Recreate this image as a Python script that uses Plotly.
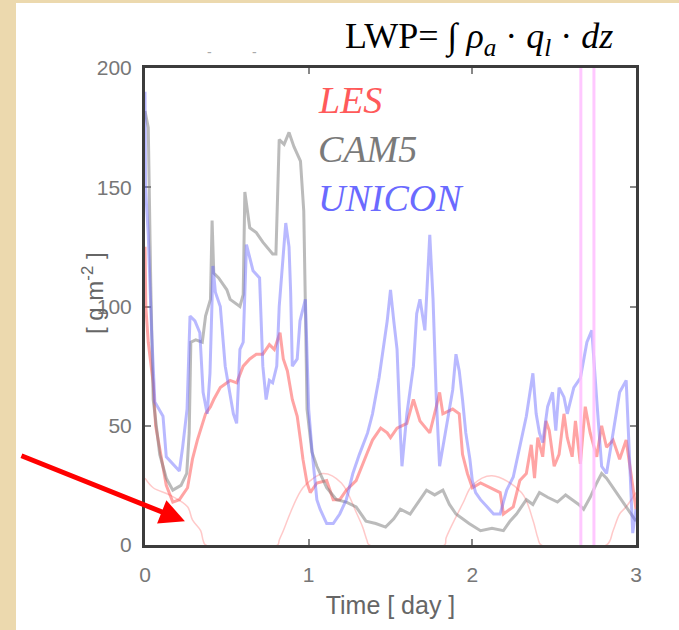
import plotly.graph_objects as go

# Liquid water path time series [g m^-2] over three days
t_les = [0.00, 0.005, 0.02, 0.05, 0.065, 0.09, 0.13, 0.17, 0.21, 0.26,
         0.29, 0.32, 0.35, 0.37, 0.40, 0.42, 0.46, 0.52, 0.56, 0.60,
         0.64, 0.68, 0.72, 0.76, 0.79, 0.81, 0.825, 0.845, 0.87, 0.90,
         0.93, 0.95, 0.965, 0.99, 1.01, 1.05, 1.11, 1.15, 1.19, 1.23,
         1.29, 1.36, 1.39, 1.44, 1.48, 1.50, 1.54, 1.60, 1.64, 1.68,
         1.74, 1.78, 1.80, 1.82, 1.88, 1.92, 1.94, 1.97, 2.00, 2.05,
         2.11, 2.17, 2.19, 2.25, 2.29, 2.33, 2.36, 2.38, 2.40, 2.43,
         2.45, 2.47, 2.50, 2.53, 2.56, 2.58, 2.61, 2.63, 2.66, 2.69,
         2.72, 2.76, 2.79, 2.82, 2.86, 2.90, 2.94, 2.98, 3.00]
v_les = [125, 100, 85, 68, 50, 40, 25, 18, 19, 24,
         36, 44, 51, 55, 58, 61, 66, 69, 68, 75,
         78, 80, 80, 84, 82, 86, 89, 78, 73, 61,
         54, 44, 36, 26, 22, 26, 27, 19, 19, 23,
         27, 39, 44, 49, 47, 45, 49, 51, 61, 52,
         47, 58, 64, 55, 57, 55, 38, 30, 24, 26,
         24, 22, 13, 16, 27, 30, 42, 28, 45, 37,
         52, 48, 33, 38, 55, 45, 37, 52, 34, 58,
         47, 37, 50, 41, 44, 36, 44, 24, 15]

t_cam = [0.00, 0.02, 0.035, 0.05, 0.09, 0.13, 0.17, 0.22, 0.255, 0.27,
         0.28, 0.31, 0.35, 0.37, 0.40, 0.41, 0.42, 0.45, 0.50, 0.52,
         0.58, 0.60, 0.61, 0.64, 0.68, 0.72, 0.78, 0.80, 0.82, 0.85,
         0.88, 0.91, 0.95, 0.97, 0.98, 0.99, 1.02, 1.05, 1.11, 1.17,
         1.23, 1.29, 1.35, 1.41, 1.47, 1.52, 1.56, 1.62, 1.67, 1.72,
         1.77, 1.82, 1.86, 1.90, 1.98, 2.05, 2.12, 2.19, 2.23, 2.27,
         2.33, 2.37, 2.41, 2.46, 2.52, 2.57, 2.61, 2.65, 2.68, 2.72,
         2.76, 2.79, 2.82, 2.86, 2.89, 2.92, 2.975, 3.00]
v_cam = [182, 175, 110, 61, 38, 28, 23, 25, 30, 47,
         85, 86, 85, 96, 103, 136, 114, 112, 107, 103,
         100, 105, 148, 133, 131, 127, 122, 122, 170, 168,
         173, 167, 161, 140, 100, 57, 39, 33, 24, 19,
         18, 16, 10, 9, 7.5, 11, 15, 13, 18, 23,
         21, 23, 17, 13, 9, 6, 7, 6, 10, 13,
         19, 17, 22, 20, 18, 21, 19, 17, 15, 20,
         26, 30, 28, 24, 21, 18, 13, 10]

t_uni = [0.00, 0.003, 0.02, 0.04, 0.06, 0.11, 0.13, 0.17, 0.21, 0.23,
         0.257, 0.275, 0.305, 0.335, 0.355, 0.38, 0.397, 0.41, 0.415, 0.43,
         0.46, 0.49, 0.52, 0.54, 0.56, 0.58, 0.60, 0.62, 0.66, 0.70,
         0.72, 0.74, 0.76, 0.78, 0.805, 0.82, 0.86, 0.88, 0.89, 0.90,
         0.93, 0.947, 0.98, 1.00, 1.02, 1.05, 1.07, 1.11, 1.15, 1.19,
         1.23, 1.27, 1.31, 1.36, 1.39, 1.43, 1.48, 1.50, 1.52, 1.54,
         1.56, 1.57, 1.60, 1.62, 1.64, 1.66, 1.68, 1.71, 1.74, 1.76,
         1.78, 1.80, 1.84, 1.88, 1.90, 1.92, 1.94, 1.96, 1.985, 2.00,
         2.02, 2.05, 2.09, 2.13, 2.17, 2.21, 2.25, 2.29, 2.33, 2.37,
         2.39, 2.41, 2.43, 2.46, 2.49, 2.51, 2.53, 2.56, 2.58, 2.62,
         2.66, 2.70, 2.73, 2.76, 2.79, 2.82, 2.86, 2.90, 2.94, 2.96,
         2.98, 3.00]
v_uni = [190, 150, 130, 90, 60, 54, 37, 34, 31, 41,
         57, 96, 94, 89, 64, 55, 72, 103, 117, 106,
         100, 75, 64, 55, 51, 82, 85, 126, 115, 112,
         75, 61, 69, 68, 75, 100, 135, 125, 106, 75,
         78, 94, 103, 57, 40, 19, 15, 9, 9, 13,
         19, 30, 38, 47, 55, 70, 94, 107, 94, 82,
         47, 33, 55, 64, 75, 97, 103, 90, 130, 103,
         61, 33, 49, 65, 80, 73, 61, 47, 36, 27,
         22, 19, 16, 13, 13, 23, 28.5, 41, 54, 72,
         55, 47, 43, 58, 64, 48, 66, 62, 55, 66,
         70, 85, 90, 61, 33, 30, 47, 64, 69, 33,
         5, 15]

# faint diurnal reference curve along the bottom
t_sun = [0.00, 0.05, 0.15, 0.26, 0.29, 0.34, 0.355, 0.37, 0.81, 0.82,
         0.845, 0.885, 0.93, 0.965, 1.01, 1.09, 1.20, 1.295, 1.33, 1.356,
         1.37, 1.83, 1.84, 1.943, 2.00, 2.12, 2.30, 2.37, 2.40, 2.42,
         2.82, 2.86, 2.90, 2.94, 3.00]
v_sun = [28, 24, 21, 16, 10.5, 6, 2, 0, 0, 2,
         6, 13, 20, 24, 27, 30, 26, 13, 7.5, 2,
         0, 0, 3, 17.6, 25, 29, 22, 10.5, 3, 0,
         0, 6, 13, 16, 22]

marker_days = [2.663, 2.743]

series_names = ["LES", "CAM5", "UNICON"]
series_colors = ["rgba(255,90,90,0.55)", "rgba(120,120,120,0.5)", "rgba(100,100,255,0.45)"]
label_colors = ["#ff5a5a", "#7a7a7a", "#6a6aff"]

x_ticks = [0, 1, 2, 3]
y_ticks = [0, 50, 100, 150, 200]

# plot-area geometry in pixels, used to place page-level annotations
L, R, T, B = 145, 636, 68, 545
W, H = R - L, B - T


def px_x(p):
    return (p - L) / W


def px_y(p):
    return (B - p) / H


fig = go.Figure()

fig.add_trace(go.Scatter(x=t_sun, y=v_sun, mode="lines", line_shape="spline",
                         line=dict(color="rgba(255,120,120,0.4)", width=1.5),
                         hoverinfo="skip", showlegend=False))

for t, v, name, col in zip([t_les, t_cam, t_uni], [v_les, v_cam, v_uni],
                           series_names, series_colors):
    fig.add_trace(go.Scatter(x=t, y=v, mode="lines", name=name,
                             line=dict(color=col, width=3), showlegend=False))

shapes = [
    # white page over the parchment background
    dict(type="rect", xref="paper", yref="paper", layer="below",
         x0=px_x(16), x1=1.2, y0=-0.3, y1=px_y(3),
         fillcolor="white", line=dict(width=0)),
]
for d in marker_days:
    shapes.append(dict(type="line", xref="x", yref="paper", x0=d, x1=d, y0=0, y1=1,
                       line=dict(color="rgba(255,190,255,0.85)", width=3)))

annotations = []
for i, (name, col) in enumerate(zip(series_names, label_colors)):
    annotations.append(dict(xref="paper", yref="paper", x=px_x(316), y=px_y(100 + i * 49),
                            xanchor="left", yanchor="middle", showarrow=False,
                            text="<i>" + name + "</i>",
                            font=dict(family="Liberation Serif", size=38, color=col)))

annotations.append(dict(xref="paper", yref="paper", x=px_x(343), y=px_y(38),
                        xanchor="left", yanchor="middle", showarrow=False,
                        text="LWP= ∫ <i>ρ<sub>a</sub></i> · <i>q<sub>l</sub></i> · <i>dz</i>",
                        font=dict(family="Liberation Serif", size=36, color="black")))

annotations.append(dict(xref="paper", yref="paper", x=px_x(93), y=px_y(293),
                        xanchor="center", yanchor="middle", showarrow=False,
                        textangle=-90, text="[ g m<sup>-2</sup> ]",
                        font=dict(family="Liberation Sans", size=24, color="#666666")))

annotations.append(dict(x=0.244, y=10, xref="x", yref="y", ax=-165, ay=-66,
                        text="", showarrow=True, arrowhead=2, arrowsize=1,
                        arrowwidth=5, arrowcolor="#ff0000", standoff=0))

for p in [205, 250]:
    annotations.append(dict(xref="paper", yref="paper", x=px_x(p), y=px_y(42),
                            text="-", showarrow=False,
                            font=dict(family="Liberation Sans", size=14, color="#aaaaaa")))

axis_common = dict(showline=True, linewidth=3, linecolor="#3c3c3c", mirror="ticks",
                   ticks="inside", ticklen=6, tickwidth=2, tickcolor="#888888",
                   showgrid=False, zeroline=False, layer="below traces",
                   tickfont=dict(family="Liberation Sans", size=21, color="#777777"))

fig.update_layout(
    width=679, height=630,
    margin=dict(l=L, r=679 - R, t=T, b=630 - B),
    paper_bgcolor="#ecd9ae",
    plot_bgcolor="white",
    shapes=shapes,
    annotations=annotations,
    xaxis=dict(range=[0, 3], tickvals=x_ticks, ticklabelstandoff=9,
               title=dict(text="Time [ day ]", standoff=12,
                          font=dict(family="Liberation Sans", size=25, color="#666666")),
               **axis_common),
    yaxis=dict(range=[0, 200], tickvals=y_ticks, ticklabelstandoff=6,
               **axis_common),
)

fig.write_html("out.html")
